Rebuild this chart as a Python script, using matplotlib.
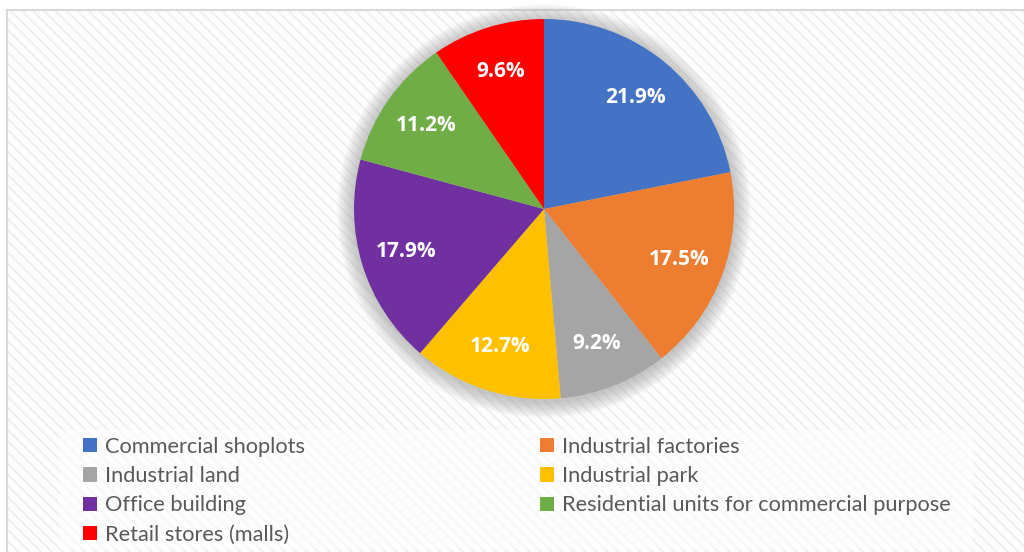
import matplotlib.pyplot as plt
from matplotlib.patches import Rectangle, Circle

labels = [
    "Commercial shoplots",
    "Industrial factories",
    "Industrial land",
    "Industrial park",
    "Office building",
    "Residential units for commercial purpose",
    "Retail stores (malls)",
]
shares = [21.9, 17.5, 9.2, 12.7, 17.9, 11.2, 9.6]
colors = ["#4472C4", "#ED7D31", "#A5A5A5", "#FFC000", "#7030A0", "#70AD47", "#FF0000"]

W, H = 1024, 552
fig = plt.figure(figsize=(W / 100, H / 100), dpi=100)
fig.patch.set_facecolor("white")
plt.rcParams["font.family"] = ["Lato", "DejaVu Sans"]
plt.rcParams["hatch.linewidth"] = 1.4

# background layer in pixel coordinates (y from top)
bg = fig.add_axes([0, 0, 1, 1])
bg.set_xlim(0, W)
bg.set_ylim(H, 0)
bg.axis("off")
bg.add_patch(Rectangle((7, 10), W, H, facecolor="#fdfdfd", edgecolor="#d9d9d9",
                       linewidth=1.5, zorder=0))
stripes = Rectangle((8, 11), W, H, facecolor="none", edgecolor="#efefef",
                    linewidth=0, hatch="\\\\\\", zorder=1)
bg.add_patch(stripes)
# lighter panel behind the legend
bg.add_patch(Rectangle((60, 430), 913, 119, facecolor="white", edgecolor="none",
                       alpha=0.6, zorder=2))

cx, cy, box = 544, 209, 400
ax = fig.add_axes([(cx - box / 2) / W, (H - cy - box / 2) / H, box / W, box / H])
ax.axis("off")

R = 0.95
# soft shadow around the pie
for i in range(14):
    ax.add_patch(Circle((0, -0.01), R + 0.006 * (14 - i), color="#808080",
                        alpha=0.035, linewidth=0, zorder=0, clip_on=False))

wedges, _, autotexts = ax.pie(
    shares, colors=colors, radius=R, startangle=90, counterclock=False,
    autopct=lambda p: f"{p:.1f}%", pctdistance=0.76,
    wedgeprops=dict(linewidth=0),
    textprops=dict(color="white", fontsize=15, fontweight="bold",
                   family=["Open Sans", "DejaVu Sans"]),
)
ax.set_xlim(-1, 1)
ax.set_ylim(-1, 1)
ax.set_aspect("equal")
for w in wedges:
    w.set_zorder(2)
for t in autotexts:
    t.set_zorder(3)

order = [0, 2, 4, 6, 1, 3, 5]
fig.legend([wedges[i] for i in order], [labels[i] for i in order],
           ncol=2, frameon=False, loc="upper left",
           bbox_to_anchor=(74 / W, 1 - 428 / H),
           fontsize=15.7, labelcolor="#595959",
           handlelength=0.65, handleheight=0.65, handletextpad=0.35,
           labelspacing=0.43, columnspacing=10.8, borderaxespad=0)

fig.savefig("out.png", dpi=100, facecolor=fig.get_facecolor())
plt.close(fig)
